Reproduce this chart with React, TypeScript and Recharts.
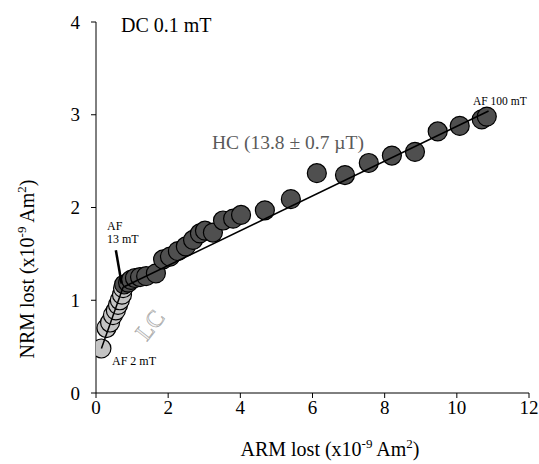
import React from "react";
import {
  ScatterChart,
  Scatter,
  XAxis,
  YAxis,
} from "recharts";

// low coercivity steps (AF 2 -> 13 mT)
const lcArm = [0.15, 0.29, 0.39, 0.47, 0.55, 0.61, 0.66, 0.72, 0.75];
const lcNrm = [0.48, 0.7, 0.76, 0.84, 0.89, 0.95, 1.0, 1.06, 1.13];

// high coercivity steps (AF 13 -> 100 mT)
const hcArm = [
  0.78, 0.89, 0.97, 1.08, 1.22, 1.39, 1.66, 1.86, 2.05, 2.27, 2.49, 2.69, 2.88,
  3.02, 3.24, 3.52, 3.8, 4.02, 4.68, 5.4, 6.12, 6.9, 7.56, 8.2, 8.84, 9.47,
  10.08, 10.69, 10.83,
];
const hcNrm = [
  1.17, 1.19, 1.22, 1.24, 1.25, 1.26, 1.29, 1.44, 1.47, 1.53, 1.58, 1.65, 1.72,
  1.75, 1.73, 1.86, 1.88, 1.92, 1.97, 2.09, 2.37, 2.35, 2.48, 2.56, 2.6, 2.82,
  2.88, 2.95, 2.98,
];

// fit lines (end points)
const lcFitArm = [0.15, 0.75];
const lcFitNrm = [0.48, 1.14];
const hcFitArm = [0.75, 10.88];
const hcFitNrm = [1.14, 3.04];

// pointer for the "AF 13 mT" note
const pointerArm = [0.55, 0.71];
const pointerNrm = [1.54, 1.18];

const xTicks = [0, 2, 4, 6, 8, 10, 12];
const yTicks = [0, 1, 2, 3, 4];

const toPoints = (xs: number[], ys: number[]) =>
  xs.map((x, i) => ({ x, y: ys[i] }));

const FONT = '"Liberation Serif", "Times New Roman", serif';

const dot = (fill: string) => (props: any) =>
  <circle cx={props.cx} cy={props.cy} r={9.5} fill={fill} stroke="#000" strokeWidth={1.2} />;

const noDot = () => <g />;

export default function App() {
  const tick = { fontSize: 19, fill: "#000", fontFamily: FONT };
  return (
    <div style={{ position: "absolute", left: 0, top: 0, width: 539, height: 464, background: "#fff" }}>
      <ScatterChart
        width={539}
        height={464}
        margin={{ top: 22, right: 10, left: 36, bottom: 31 }}
      >
        <XAxis
          type="number"
          dataKey="x"
          domain={[0, 12]}
          ticks={xTicks}
          tick={tick}
          tickSize={5}
          tickMargin={3}
          height={40}
          stroke="#000"
          allowDataOverflow
        />
        <YAxis
          type="number"
          dataKey="y"
          domain={[0, 4]}
          ticks={yTicks}
          tick={tick}
          tickSize={5}
          tickMargin={11}
          width={60}
          stroke="#000"
          allowDataOverflow
        />
        <Scatter
          data={toPoints(lcArm, lcNrm)}
          shape={dot("#c4c4c4")}
          isAnimationActive={false}
        />
        <Scatter
          data={toPoints(hcArm, hcNrm)}
          shape={dot("#4f4f4f")}
          isAnimationActive={false}
        />
        <Scatter
          data={toPoints(lcFitArm, lcFitNrm)}
          line={{ stroke: "#000", strokeWidth: 1.5 }}
          shape={noDot}
          isAnimationActive={false}
        />
        <Scatter
          data={toPoints(hcFitArm, hcFitNrm)}
          line={{ stroke: "#000", strokeWidth: 1.5 }}
          shape={noDot}
          isAnimationActive={false}
        />
        <Scatter
          data={toPoints(pointerArm, pointerNrm)}
          line={{ stroke: "#000", strokeWidth: 2.5 }}
          shape={noDot}
          isAnimationActive={false}
        />
      </ScatterChart>
      <svg
        width={539}
        height={464}
        style={{ position: "absolute", left: 0, top: 0, pointerEvents: "none" }}
        fontFamily={FONT}
      >
        <text x={121} y={32} fontSize={20} fill="#000">DC 0.1 mT</text>
        <text x={212} y={149} fontSize={19.5} fill="#5a5a5a">HC (13.8 ± 0.7 µT)</text>
        <text x={473} y={105} fontSize={11.5} fill="#000">AF 100 mT</text>
        <text x={107} y={230} fontSize={12} fill="#000">AF</text>
        <text x={107} y={243} fontSize={12} fill="#000">13 mT</text>
        <text x={112} y={365} fontSize={12} fill="#000">AF 2 mT</text>
        <text
          x={150}
          y={333}
          fontSize={24}
          fill="#f4f4f4"
          stroke="#a0a0a0"
          strokeWidth={0.6}
          textAnchor="middle"
          transform="rotate(-52 150 325)"
        >
          LC
        </text>
        <text x={330} y={456} fontSize={20} fill="#000" textAnchor="middle">
          ARM lost (x10
          <tspan fontSize={13} dy={-8}>-9</tspan>
          <tspan dy={8}> Am</tspan>
          <tspan fontSize={13} dy={-8}>2</tspan>
          <tspan dy={8}>)</tspan>
        </text>
        <text
          x={34}
          y={269}
          fontSize={20}
          fill="#000"
          textAnchor="middle"
          transform="rotate(-90 34 269)"
        >
          NRM lost (x10
          <tspan fontSize={13} dy={-8}>-9</tspan>
          <tspan dy={8}> Am</tspan>
          <tspan fontSize={13} dy={-8}>2</tspan>
          <tspan dy={8}>)</tspan>
        </text>
      </svg>
    </div>
  );
}
